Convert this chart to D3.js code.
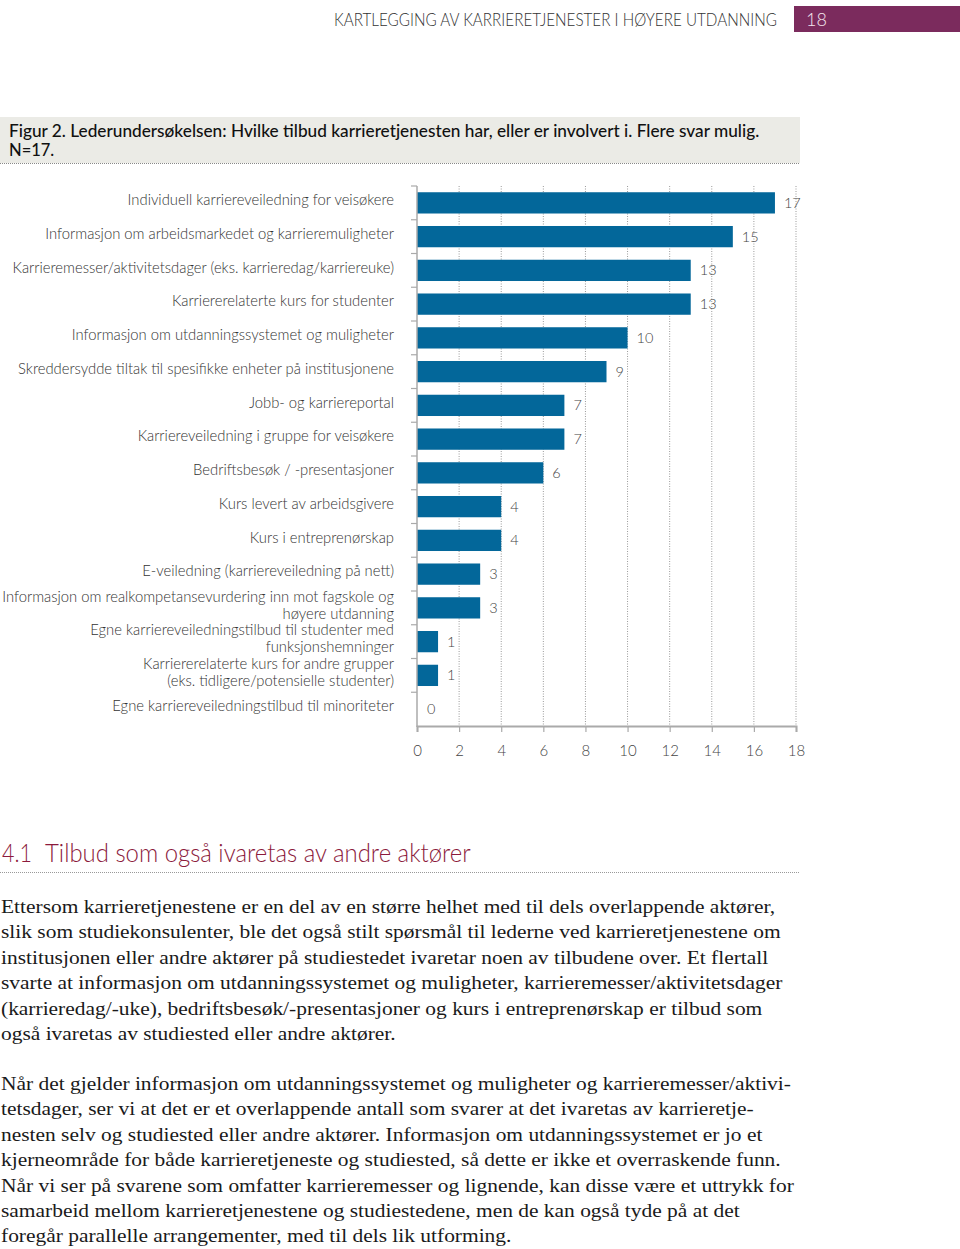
<!DOCTYPE html>
<html>
<head>
<meta charset="utf-8">
<script src="https://cdn.jsdelivr.net/npm/d3@7"></script>
<style>
  body { margin: 0; background: #fff; }
  svg { display: block; }
</style>
</head>
<body>
<svg width="960" height="1249"></svg>
<script>
// data
const categories = [
  ["Individuell karriereveiledning for veisøkere"],
  ["Informasjon om arbeidsmarkedet og karrieremuligheter"],
  ["Karrieremesser/aktivitetsdager (eks. karrieredag/karriereuke)"],
  ["Karriererelaterte kurs for studenter"],
  ["Informasjon om utdanningssystemet og muligheter"],
  ["Skreddersydde tiltak til spesifikke enheter på institusjonene"],
  ["Jobb- og karriereportal"],
  ["Karriereveiledning i gruppe for veisøkere"],
  ["Bedriftsbesøk / -presentasjoner"],
  ["Kurs levert av arbeidsgivere"],
  ["Kurs i entreprenørskap"],
  ["E-veiledning (karriereveiledning på nett)"],
  ["Informasjon om realkompetansevurdering inn mot fagskole og", "høyere utdanning"],
  ["Egne karriereveiledningstilbud til studenter med", "funksjonshemninger"],
  ["Karriererelaterte kurs for andre grupper", "(eks. tidligere/potensielle studenter)"],
  ["Egne karriereveiledningstilbud til minoriteter"]
];
const values = [17, 15, 13, 13, 10, 9, 7, 7, 6, 4, 4, 3, 3, 1, 1, 0];
const xTicks = [0, 2, 4, 6, 8, 10, 12, 14, 16, 18];

const headerText = "KARTLEGGING AV KARRIERETJENESTER I HØYERE UTDANNING";
const pageNumber = "18";
const figTitle = ["Figur 2. Lederundersøkelsen: Hvilke tilbud karrieretjenesten har, eller er involvert i. Flere svar mulig.", "N=17."];
const sectionNo = "4.1";
const sectionTitle = "Tilbud som også ivaretas av andre aktører";
const para1 = [
  "Ettersom karrieretjenestene er en del av en større helhet med til dels overlappende aktører,",
  "slik som studiekonsulenter, ble det også stilt spørsmål til lederne ved karrieretjenestene om",
  "institusjonen eller andre aktører på studiestedet ivaretar noen av tilbudene over. Et flertall",
  "svarte at informasjon om utdanningssystemet og muligheter, karrieremesser/aktivitetsdager",
  "(karrieredag/-uke), bedriftsbesøk/-presentasjoner og kurs i entreprenørskap er tilbud som",
  "også ivaretas av studiested eller andre aktører."
];
const para2 = [
  "Når det gjelder informasjon om utdanningssystemet og muligheter og karrieremesser/aktivi-",
  "tetsdager, ser vi at det er et overlappende antall som svarer at det ivaretas av karrieretje-",
  "nesten selv og studiested eller andre aktører. Informasjon om utdanningssystemet er jo et",
  "kjerneområde for både karrieretjeneste og studiested, så dette er ikke et overraskende funn.",
  "Når vi ser på svarene som omfatter karrieremesser og lignende, kan disse være et uttrykk for",
  "samarbeid mellom karrieretjenestene og studiestedene, men de kan også tyde på at det",
  "foregår parallelle arrangementer, med til dels lik utforming."
];

const svg = d3.select("svg");
const sans = "Lato, 'Open Sans', sans-serif";

// squeeze a text horizontally to a given width (original uses a condensed face)
function fitWidth(sel, x0, y0, w) {
  const len = sel.node().getComputedTextLength();
  sel.attr("x", 0).attr("y", 0)
    .attr("transform", `translate(${x0},${y0}) scale(${w / len},1)`);
}

// page header
const hdr = svg.append("text")
  .attr("font-family", sans).attr("font-weight", 300)
  .attr("font-size", 17.5).attr("fill", "#333")
  .text(headerText);
fitWidth(hdr, 334, 26, 443);
svg.append("rect")
  .attr("x", 794).attr("y", 6).attr("width", 166).attr("height", 26)
  .attr("fill", "#7b2b5d");
svg.append("text")
  .attr("x", 806).attr("y", 26)
  .attr("font-family", sans).attr("font-weight", 300)
  .attr("font-size", 18).attr("fill", "#f3e6ee")
  .text(pageNumber);

// figure title box
svg.append("rect")
  .attr("x", 0).attr("y", 117).attr("width", 800).attr("height", 46)
  .attr("fill", "#ebebe6");
svg.append("line")
  .attr("x1", 0).attr("x2", 800).attr("y1", 163.5).attr("y2", 163.5)
  .attr("stroke", "#888").attr("stroke-dasharray", "1,1");
const t1 = svg.append("text")
  .attr("font-family", sans).attr("font-weight", 500)
  .attr("font-size", 16.5).attr("fill", "#111")
  .text(figTitle[0]);
fitWidth(t1, 9, 137, 751);
svg.append("text")
  .attr("x", 9).attr("y", 156)
  .attr("font-family", sans).attr("font-weight", 500)
  .attr("font-size", 16.5).attr("fill", "#111")
  .text(figTitle[1]);

// chart
const x = d3.scaleLinear().domain([0, 18]).range([417, 796]);
const y = d3.scaleBand().domain(d3.range(values.length)).range([186, 726]).paddingInner(0.37).paddingOuter(0.185);
const step = (726 - 186) / values.length;

const g = svg.append("g");

// dotted gridlines
g.selectAll("line.grid").data(xTicks.slice(1)).join("line")
  .attr("class", "grid")
  .attr("x1", d => x(d)).attr("x2", d => x(d))
  .attr("y1", 186).attr("y2", 726)
  .attr("stroke", "#9a9a9a").attr("stroke-width", 1)
  .attr("stroke-dasharray", "1,1.5");

// bars
g.selectAll("rect.bar").data(values).join("rect")
  .attr("class", "bar")
  .attr("x", x(0)).attr("y", (d, i) => y(i))
  .attr("width", d => x(d) - x(0)).attr("height", y.bandwidth())
  .attr("fill", "#03679a");

// value labels
g.selectAll("text.val").data(values).join("text")
  .attr("class", "val")
  .attr("x", d => x(d) + (d === 0 ? 10 : 9))
  .attr("y", (d, i) => y(i) + y.bandwidth() / 2 + 5)
  .attr("font-family", sans).attr("font-weight", 300)
  .attr("font-size", 14.5).attr("fill", "#444")
  .text(d => d);

// y axis line + ticks at band boundaries
g.append("line")
  .attr("x1", x(0)).attr("x2", x(0)).attr("y1", 186).attr("y2", 727)
  .attr("stroke", "#aaa").attr("stroke-width", 1.5);
g.selectAll("line.ytick").data(d3.range(values.length)).join("line")
  .attr("class", "ytick")
  .attr("x1", x(0) - 6).attr("x2", x(0))
  .attr("y1", d => 186 + d * step).attr("y2", d => 186 + d * step)
  .attr("stroke", "#aaa").attr("stroke-width", 1.2);

// x axis
const xAxis = g.append("g")
  .attr("transform", "translate(0,726)")
  .call(d3.axisBottom(x).tickValues(xTicks).tickSize(6).tickPadding(13));
xAxis.select(".domain").attr("stroke", "#aaa").attr("stroke-width", 2);
xAxis.selectAll(".tick line").attr("stroke", "#aaa").attr("stroke-width", 1.2);
xAxis.selectAll(".tick text")
  .attr("font-family", sans).attr("font-weight", 300)
  .attr("font-size", 15).attr("fill", "#444");

// category labels
const lab = g.selectAll("text.cat").data(categories).join("text")
  .attr("class", "cat")
  .attr("text-anchor", "end")
  .attr("font-family", sans).attr("font-weight", 300)
  .attr("font-size", 14.8).attr("fill", "#333")
  .attr("transform", (d, i) => `translate(394,${y(i) + y.bandwidth() / 2 - 3 - (d.length - 1) * 8.5})`);
lab.selectAll("tspan").data(d => d).join("tspan")
  .attr("x", 0).attr("y", (d, i) => i * 17).attr("dy", "0.35em")
  .text(d => d);

// section heading
const secNo = svg.append("text")
  .attr("font-family", sans).attr("font-weight", 300)
  .attr("font-size", 25).attr("fill", "#8c1a3c")
  .text(sectionNo);
fitWidth(secNo, 2, 862, 30);
const secTitle = svg.append("text")
  .attr("font-family", sans).attr("font-weight", 300)
  .attr("font-size", 25).attr("fill", "#8c1a3c")
  .text(sectionTitle);
fitWidth(secTitle, 45, 862, 426);
svg.append("line")
  .attr("x1", 0).attr("x2", 800).attr("y1", 872.5).attr("y2", 872.5)
  .attr("stroke", "#999").attr("stroke-dasharray", "1,1");

// body text (horizontally stretched a bit to match the original typeface width)
const serif = "'Liberation Serif', 'DejaVu Serif', serif";
function paragraph(lines, top) {
  svg.append("g")
    .attr("transform", `translate(1,${top}) scale(1.1,1)`)
    .selectAll("text").data(lines).join("text")
    .attr("x", 0).attr("y", (d, i) => i * 25.4)
    .attr("font-family", serif).attr("font-size", 19.5).attr("fill", "#1a1a1a")
    .text(d => d);
}
paragraph(para1, 913);
paragraph(para2, 1090);
</script>
</body>
</html>
